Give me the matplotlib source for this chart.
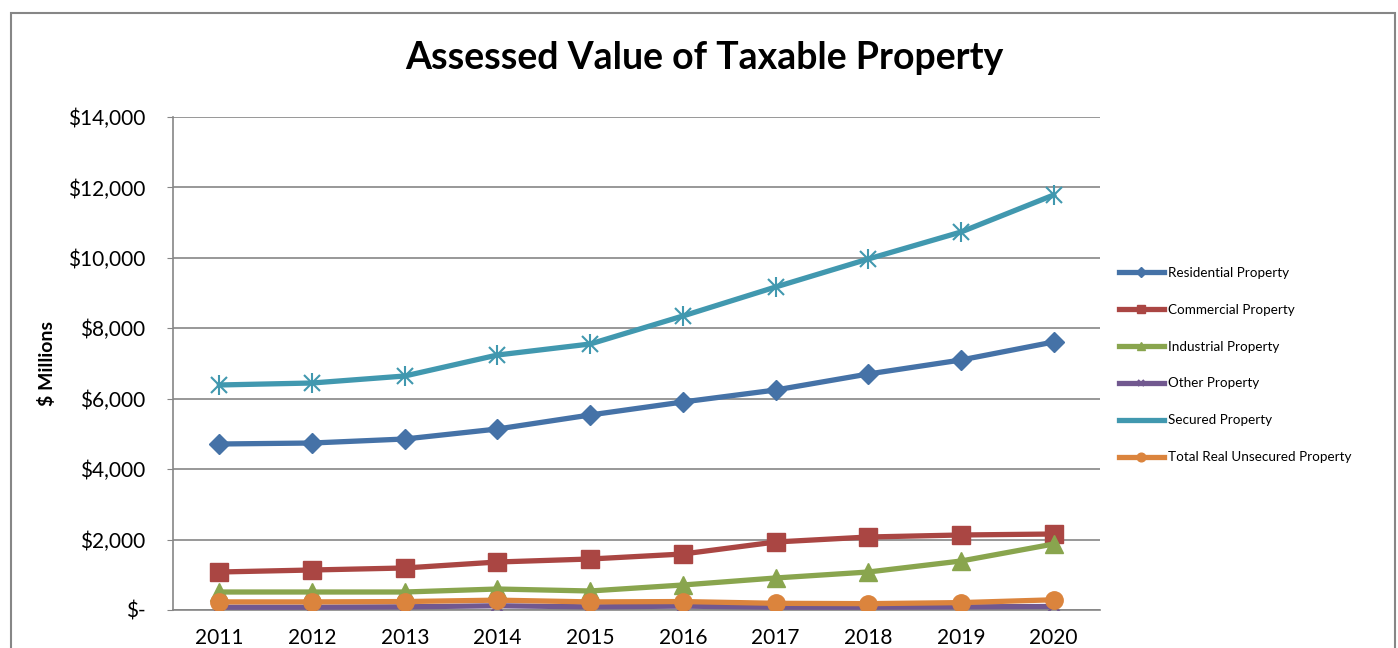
import matplotlib.pyplot as plt
from matplotlib.patches import Rectangle
from matplotlib.ticker import FuncFormatter

plt.rcParams['font.family'] = ['Lato', 'DejaVu Sans']

years = ['2011', '2012', '2013', '2014', '2015', '2016', '2017', '2018', '2019', '2020']

# значения в миллионах долларов
residential = [4714, 4742, 4856, 5140, 5538, 5907, 6247, 6702, 7099, 7611]
commercial = [1079, 1136, 1193, 1363, 1448, 1590, 1931, 2073, 2130, 2158]
industrial = [511, 511, 511, 596, 540, 710, 909, 1079, 1391, 1874]
other = [80, 80, 90, 120, 90, 110, 80, 80, 90, 100]
secured = [6390, 6446, 6645, 7241, 7554, 8349, 9172, 9968, 10734, 11785]
unsecured = [230, 230, 240, 280, 230, 240, 190, 180, 210, 290]

series = [
    ("Residential Property", residential, "#4572A7", "D", 10.5),
    ("Commercial Property", commercial, "#AA4643", "s", 12.5),
    ("Industrial Property", industrial, "#89A54E", "^", 12.5),
    ("Other Property", other, "#71588F", "x", 10),
    ("Secured Property", secured, "#4198AF", "*", 12),
    ("Total Real Unsecured Property", unsecured, "#DB843D", "o", 12.5),
]

fig = plt.figure(figsize=(13.98, 6.48), dpi=100)
ax = fig.add_axes([173/1398, 1 - 610/648, (1100-173)/1398, (610-117)/648])

x = list(range(len(years)))
for name, vals, col, mk, ms in series:
    if mk == "*":
        # звёздочка как в Excel: крестик + вертикальная черта
        ax.plot(x, vals, color=col, lw=3.8, label=name, zorder=3)
        ax.plot(x, vals, ls='none', marker='x', ms=ms, mew=1.5, color=col, zorder=4)
        ax.plot(x, vals, ls='none', marker='|', ms=ms + 2, mew=1.5, color=col, zorder=4)
    elif mk == "x":
        ax.plot(x, vals, color=col, lw=3.8, marker=mk, ms=ms, mew=1.5, label=name, zorder=3)
    else:
        ax.plot(x, vals, color=col, lw=3.8, marker=mk, ms=ms, label=name, zorder=3)

ax.set_xlim(-0.5, len(years) - 0.5)
ax.set_ylim(0, 14000)
ax.set_yticks(range(0, 14001, 2000))
ax.yaxis.set_major_formatter(FuncFormatter(lambda v, p: "$-" if v == 0 else f"${v:,.0f}"))
ax.set_xticks(x)
ax.set_xticklabels(years)
ax.tick_params(axis='x', length=0, labelsize=15, pad=13)
ax.tick_params(axis='y', length=4, color='#868686', labelsize=15, pad=16, direction='out')
ax.grid(axis='y', color='#868686', lw=1.2)
ax.set_axisbelow(True)
for s in ['top', 'right']:
    ax.spines[s].set_visible(False)
for s in ['left', 'bottom']:
    ax.spines[s].set_color('#868686')
    ax.spines[s].set_linewidth(1.2)

ax.set_ylabel("$ Millions", fontsize=14, fontweight='bold')
ax.yaxis.set_label_coords(-117/927, 0.5)

fig.text(704/1398, 1 - 58/648, "Assessed Value of Taxable Property",
         fontsize=27, fontweight='bold', ha='center', va='center')

leg = fig.legend(loc='center left', bbox_to_anchor=(1107/1398, 1 - 365/648),
                 frameon=False, fontsize=9.7, labelspacing=1.85, handlelength=3.3,
                 handletextpad=0.3, markerscale=0.5)

# рамка вокруг всей диаграммы
fig.patches.append(Rectangle((11/1398, -0.1), (1395-11)/1398, 1.1 - 13/648,
                             transform=fig.transFigure, fill=False,
                             edgecolor='#868686', lw=1.5))

fig.savefig("out.png", dpi=100)
